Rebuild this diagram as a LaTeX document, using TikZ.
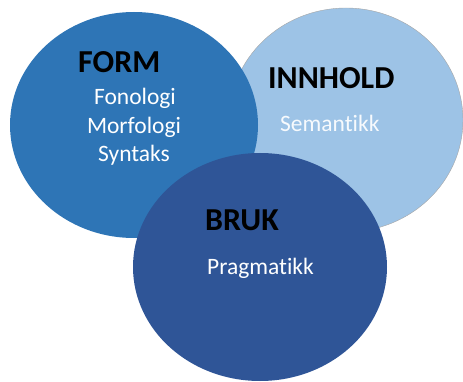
\documentclass[tikz,border=0pt]{standalone}
\usepackage{fontspec}
\setmainfont{Carlito}[Ligatures=NoCommon]
\usetikzlibrary{shapes.geometric}
\definecolor{formblue}{HTML}{2E75B6}
\definecolor{innholdblue}{HTML}{9DC3E6}
\definecolor{brukblue}{HTML}{2F5597}
\tikzset{
  sirkel/.style={ellipse, inner sep=0pt},
  tittel/.style={font=\bfseries\fontsize{32}{36}\selectfont, text=black, anchor=west, inner sep=0pt},
  fag/.style={font=\fontsize{23.5}{28}\selectfont, text=white, inner sep=0pt}
}
\begin{document}
\begin{tikzpicture}[x=1pt,y=-1pt]
\useasboundingbox (0,0) rectangle (463,382);
\node[sirkel, fill=innholdblue, draw=gray!70, minimum width=234pt, minimum height=224pt] (innhold) at (346,120) {};
\node[sirkel, fill=formblue, minimum width=248pt, minimum height=226pt] (form) at (134,125) {};
\node[sirkel, fill=brukblue, minimum width=254pt, minimum height=228pt] (bruk) at (260,267) {};
\node[tittel] (formtittel) at (78,62) {FORM};
\node[fag] (fonologi) at (135,98) {Fonologi};
\node[fag] (morfologi) at (134,127) {Morfologi};
\node[fag] (syntaks) at (134,155) {Syntaks};
\node[tittel] (innholdtittel) at (268,78) {INNHOLD};
\node[fag, anchor=west, text=white!92!innholdblue] (semantikk) at (280,123) {Semantikk};
\node[tittel] (bruktittel) at (205,220) {BRUK};
\node[fag, anchor=west] (pragmatikk) at (207,268) {Pragmatikk};
\end{tikzpicture}
\end{document}
